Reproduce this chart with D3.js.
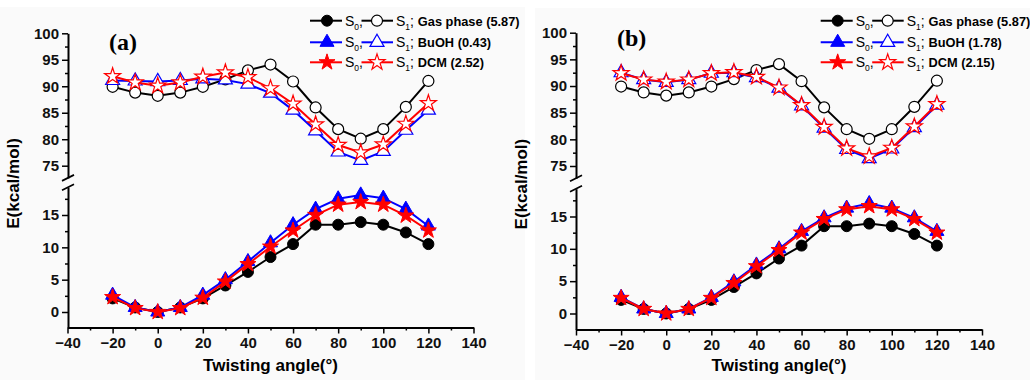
<!DOCTYPE html>
<html>
<head>
<meta charset="utf-8">
<script src="https://cdn.jsdelivr.net/npm/d3@7"></script>
<style>
  html, body { margin: 0; padding: 0; background: #ffffff; }
  svg { display: block; }
</style>
</head>
<body>
<svg id="chart" width="1030" height="380" font-family="Liberation Sans, Arial, sans-serif"></svg>
<script>
// ---------------- DATA ----------------
const angles = [-20, -10, 0, 10, 20, 30, 40, 50, 60, 70, 80, 90, 100, 110, 120];

// Gas phase (same in both panels)
const gasS0 = [2.1, 0.7, 0.0, 0.7, 2.1, 4.1, 6.2, 8.5, 10.5, 13.5, 13.5, 13.9, 13.5, 12.3, 10.5];
const gasS1 = [89.9, 88.8, 88.2, 88.8, 89.9, 91.3, 93.0, 94.1, 90.9, 86.0, 81.9, 80.1, 81.9, 86.1, 91.0];

// Panel (a)
const aBuohS0 = [2.6, 0.7, 0.0, 0.7, 2.6, 5.0, 7.8, 10.7, 13.5, 15.9, 17.5, 18.1, 17.6, 15.9, 13.3];
const aBuohS1 = [91.1, 91.0, 90.9, 91.1, 91.4, 91.2, 90.4, 88.7, 85.5, 81.6, 77.6, 76.0, 77.7, 81.7, 85.5];
const aDcmS0  = [2.3, 0.6, 0.0, 0.6, 2.2, 4.7, 7.4, 10.1, 12.6, 15.0, 16.6, 17.0, 16.6, 14.9, 12.6];
const aDcmS1  = [91.9, 90.7, 90.1, 90.7, 91.8, 92.6, 91.7, 89.6, 86.7, 82.8, 78.9, 77.5, 79.0, 82.9, 86.8];

// Panel (b)
const bBuohS0 = [2.5, 0.7, 0.0, 0.7, 2.5, 4.9, 7.5, 10.0, 12.7, 14.8, 16.3, 17.0, 16.3, 14.8, 12.7];
const bBuohS1 = [92.5, 91.2, 90.7, 91.2, 92.4, 92.5, 91.6, 89.6, 86.3, 82.1, 78.1, 76.4, 78.2, 82.2, 86.4];
const bDcmS0  = [2.4, 0.7, 0.0, 0.7, 2.4, 4.7, 7.3, 9.8, 12.5, 14.6, 16.1, 16.6, 16.1, 14.6, 12.5];
const bDcmS1  = [92.4, 91.2, 90.8, 91.2, 92.4, 92.6, 91.7, 89.7, 86.4, 82.3, 78.3, 76.8, 78.4, 82.4, 86.6];

const xTicks = [-40, -20, 0, 20, 40, 60, 80, 100, 120, 140];
const xMinorTicks = [-30, -10, 10, 30, 50, 70, 90, 110, 130];
const yTicksUpper = [75, 80, 85, 90, 95, 100];
const yMinorUpper = [72.5, 77.5, 82.5, 87.5, 92.5, 97.5];
const yTicksLower = [0, 5, 10, 15];
const yMinorLower = [-2.5, 2.5, 7.5, 12.5, 17.5];

const panelNames = ["(a)", "(b)"];
const gasLabel = "Gas phase (5.87)";
const buohLabels = ["BuOH (0.43)", "BuOH (1.78)"];
const dcmLabels = ["DCM (2.52)", "DCM (2.15)"];

// ---------------- LAYOUT ----------------
const BLACK = "#000000", BLUE = "#0000ff", RED = "#ff0000", BG = "#fafafa";
const SANS = "Liberation Sans, Arial, sans-serif";
const SERIF = "Liberation Serif, Times New Roman, serif";
const svg = d3.select("#chart");

const panels = [
  { name: panelNames[0], bgX: 0, bgW: 525, bgY: 7,
    xLeft: 67.5, axisX: 68, yTop: 33.3, y75: 165.7, y0: 312, y15: 215, xAxisY: 327.5,
    labelX: 109, labelY: 50, legX: 310,
    series: [
      {s0: gasS0, s1: gasS1, color: BLACK, sym: d3.symbolCircle, size: 95, label: gasLabel},
      {s0: aBuohS0, s1: aBuohS1, color: BLUE, sym: d3.symbolTriangle, size: 85, label: buohLabels[0]},
      {s0: aDcmS0, s1: aDcmS1, color: RED, sym: d3.symbolStar, size: 80, label: dcmLabels[0]}
    ] },
  { name: panelNames[1], bgX: 535, bgW: 495, bgY: 8,
    xLeft: 576, axisX: 576, yTop: 32.7, y75: 166, y0: 313.5, y15: 216.5, xAxisY: 329.5,
    labelX: 617, labelY: 46, legX: 820.7,
    series: [
      {s0: gasS0, s1: gasS1, color: BLACK, sym: d3.symbolCircle, size: 95, label: gasLabel},
      {s0: bBuohS0, s1: bBuohS1, color: BLUE, sym: d3.symbolTriangle, size: 85, label: buohLabels[1]},
      {s0: bDcmS0, s1: bDcmS1, color: RED, sym: d3.symbolStar, size: 80, label: dcmLabels[1]}
    ] }
];

panels.forEach(p => {
  svg.append("rect").attr("x", p.bgX).attr("y", p.bgY).attr("width", p.bgW).attr("height", 380 - p.bgY)
    .attr("fill", BG);

  const g = svg.append("g");
  const x = d3.scaleLinear().domain([-40, 140]).range([p.xLeft, p.xLeft + 406]);
  const yU = d3.scaleLinear().domain([75, 100]).range([p.y75, p.yTop]);
  const yL = d3.scaleLinear().domain([0, 15]).range([p.y0, p.y15]);

  const upperBottom = 72.7, lowerTop = 19.3;
  const lowerBottom = yL.invert(p.xAxisY);

  // ---- x axis ----
  const xAxisG = g.append("g").attr("transform", `translate(0,${p.xAxisY})`);
  xAxisG.call(d3.axisBottom(x).tickValues(xTicks).tickSize(6).tickSizeOuter(0).tickPadding(4)
    .tickFormat(d3.format("d")));
  xAxisG.append("g").call(d3.axisBottom(x).tickValues(xMinorTicks).tickSize(3).tickFormat(""))
    .select(".domain").remove();

  // ---- y axis upper ----
  const yUaxisScale = yU.copy().domain([upperBottom, 100]).range([yU(upperBottom), yU(100)]);
  const yUG = g.append("g").attr("transform", `translate(${p.axisX},0)`);
  yUG.call(d3.axisLeft(yUaxisScale).tickValues(yTicksUpper).tickSize(6).tickSizeOuter(0).tickPadding(3));
  yUG.append("g").call(d3.axisLeft(yUaxisScale).tickValues(yMinorUpper.filter(v => v >= upperBottom)).tickSize(3).tickFormat(""))
    .select(".domain").remove();

  // ---- y axis lower ----
  const yLaxisScale = yL.copy().domain([lowerBottom, lowerTop]).range([yL(lowerBottom), yL(lowerTop)]);
  const yLG = g.append("g").attr("transform", `translate(${p.axisX},0)`);
  yLG.call(d3.axisLeft(yLaxisScale).tickValues(yTicksLower).tickSize(6).tickSizeOuter(0).tickPadding(3));
  yLG.append("g").call(d3.axisLeft(yLaxisScale).tickValues(yMinorLower.filter(v => v >= lowerBottom)).tickSize(3).tickFormat(""))
    .select(".domain").remove();

  g.selectAll(".domain").attr("stroke", "#000").attr("stroke-width", 2);
  g.selectAll(".tick line").attr("stroke", "#000").attr("stroke-width", 1.5);
  g.selectAll(".tick text").style("font-family", SANS)
    .style("font-size", "15px").style("font-weight", "bold").attr("fill", "#111");

  // break marks
  const by1 = yU(upperBottom), by2 = yL(lowerTop);
  [by1, by2].forEach(by => {
    g.append("line").attr("x1", p.axisX - 6).attr("y1", by + 3).attr("x2", p.axisX + 6).attr("y2", by - 3)
      .attr("stroke", "#000").attr("stroke-width", 1.8);
  });

  // ---- series ----
  const lineU = d3.line().x((d, i) => x(angles[i])).y(d => yU(d));
  const lineL = d3.line().x((d, i) => x(angles[i])).y(d => yL(d));
  p.series.forEach(s => {
    g.append("path").attr("d", lineL(s.s0)).attr("fill", "none").attr("stroke", s.color).attr("stroke-width", 2);
    g.append("path").attr("d", lineU(s.s1)).attr("fill", "none").attr("stroke", s.color).attr("stroke-width", 2);
    const sym = d3.symbol().type(s.sym).size(s.size);
    g.selectAll(null).data(s.s0).enter().append("path")
      .attr("d", sym).attr("transform", (d, i) => `translate(${x(angles[i])},${yL(d)})`)
      .attr("fill", s.color).attr("stroke", s.color).attr("stroke-width", 1);
    g.selectAll(null).data(s.s1).enter().append("path")
      .attr("d", sym).attr("transform", (d, i) => `translate(${x(angles[i])},${yU(d)})`)
      .attr("fill", "#ffffff").attr("stroke", s.color).attr("stroke-width", 1.2);
  });

  // ---- axis titles ----
  g.append("text").attr("x", x(50)).attr("y", 371).attr("text-anchor", "middle")
    .style("font-family", SANS).style("font-size", "17px").style("font-weight", "bold").text("Twisting angle(°)");
  g.append("text").attr("transform", `translate(${p.axisX - 49},${(p.yTop + p.xAxisY) / 2 + 3}) rotate(-90)`)
    .attr("text-anchor", "middle").style("font-family", SANS).style("font-size", "17px").style("font-weight", "bold")
    .text("E(kcal/mol)");

  // panel label
  g.append("text").attr("x", p.labelX).attr("y", p.labelY)
    .style("font-family", SERIF).style("font-size", "24px").style("font-weight", "bold").text(p.name);

  // ---- legend ----
  const rowY = [20.7, 42.3, 62.3];
  p.series.forEach((s, i) => {
    const lx = p.legX, ry = rowY[i];
    const sym = d3.symbol().type(s.sym).size(s.size);
    g.append("line").attr("x1", lx).attr("x2", lx + 32).attr("y1", ry).attr("y2", ry)
      .attr("stroke", s.color).attr("stroke-width", 2);
    g.append("path").attr("d", sym).attr("transform", `translate(${lx + 17},${ry})`)
      .attr("fill", s.color).attr("stroke", s.color);
    g.append("line").attr("x1", lx + 51.5).attr("x2", lx + 83).attr("y1", ry).attr("y2", ry)
      .attr("stroke", s.color).attr("stroke-width", 2);
    g.append("path").attr("d", sym).attr("transform", `translate(${lx + 67},${ry})`)
      .attr("fill", "#ffffff").attr("stroke", s.color).attr("stroke-width", 1.2);

    const t0 = g.append("text").attr("x", lx + 35).attr("y", ry + 5).style("font-family", SANS).style("font-size", "14px");
    t0.append("tspan").text("S");
    t0.append("tspan").style("font-size", "8.5px").attr("dy", 4).text("0");
    t0.append("tspan").attr("dy", -4).text(",");

    const t1 = g.append("text").attr("x", lx + 86).attr("y", ry + 5).style("font-family", SANS).style("font-size", "14px");
    t1.append("tspan").text("S");
    t1.append("tspan").style("font-size", "8.5px").attr("dy", 4).text("1");
    t1.append("tspan").attr("dy", -4).text("; ");
    t1.append("tspan").style("font-weight", "bold").style("font-size", "12.8px").text(s.label);
  });
});
</script>
</body>
</html>
